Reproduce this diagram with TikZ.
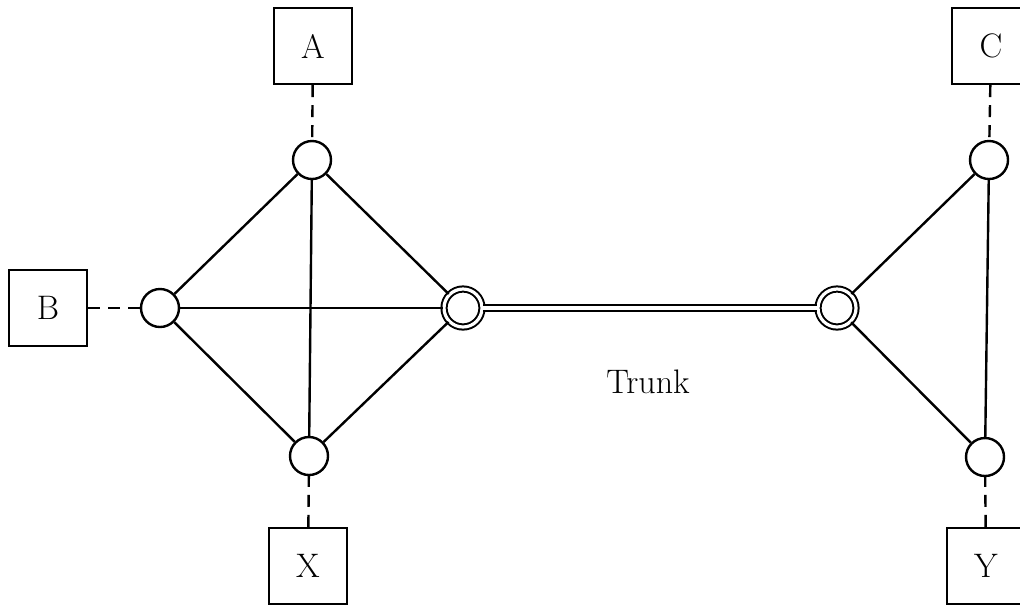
\documentclass[tikz,border=0pt]{standalone}
\begin{document}
\begin{tikzpicture}[x=0.5pt,y=-0.5pt,line width=1.2pt,
  station/.style={draw,circle,minimum size=19pt,inner sep=0pt},
  gateway/.style={draw,circle,double,double distance=1.6pt,line width=1pt,minimum size=19pt,inner sep=0pt},
  host/.style={draw,rectangle,minimum width=39pt,minimum height=38pt,inner sep=0pt,font=\fontsize{17}{20}\selectfont},
  access/.style={dash pattern=on 6pt off 4pt}]
\useasboundingbox (0,0) rectangle (1020,607);

% hosts
\node[host] (A) at (313,46) {A};
\node[host] (B) at (48,308) {B};
\node[host] (C) at (991,46) {C};
\node[host] (X) at (308,566) {X};
\node[host] (Y) at (986,566) {Y};

% switching nodes
\node[station] (n1) at (312,160) {};
\node[station] (n2) at (160,308) {};
\node[station] (n3) at (309,456) {};
\node[gateway] (g1) at (463,308) {};
\node[gateway] (g2) at (837,308) {};
\node[station] (n4) at (989,160) {};
\node[station] (n5) at (985,457) {};

\node[font=\fontsize{17}{20}\selectfont] (trunk) at (648,382) {Trunk};

% left mesh
\draw (n1) -- (n2);
\draw (n1) -- (g1);
\draw (n1) -- (n3);
\draw (n2) -- (g1);
\draw (n2) -- (n3);
\draw (n3) -- (g1);

% right triangle
\draw (g2) -- (n4);
\draw (g2) -- (n5);
\draw (n4) -- (n5);

% trunk
\draw[double,double distance=1.6pt,line width=1pt] (g1) -- (g2);

% access lines
\draw[access] (A) -- (n1);
\draw[access] (B) -- (n2);
\draw[access] (X) -- (n3);
\draw[access] (C) -- (n4);
\draw[access] (Y) -- (n5);
\end{tikzpicture}
\end{document}
